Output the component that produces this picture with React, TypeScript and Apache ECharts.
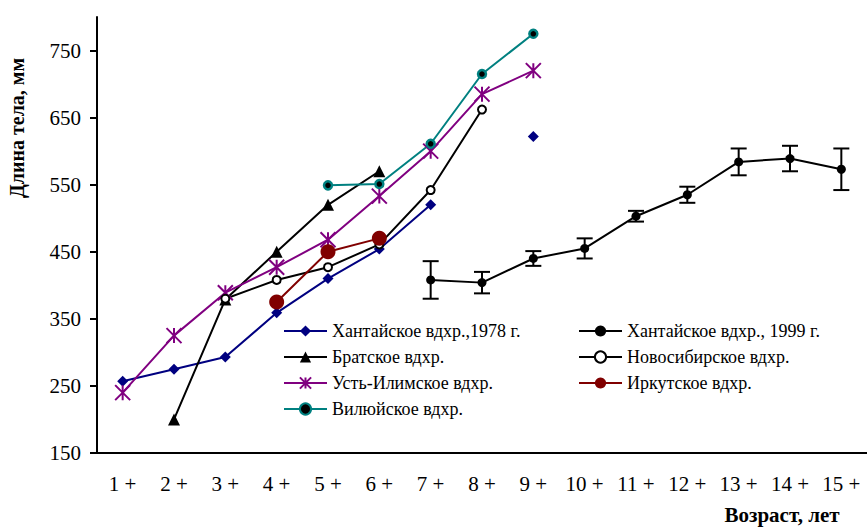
import React, { useEffect, useRef } from "react";
import * as echarts from "echarts";

const categories = ["1 +", "2 +", "3 +", "4 +", "5 +", "6 +", "7 +", "8 +", "9 +", "10 +", "11 +", "12 +", "13 +", "14 +", "15 +"];
const yTicks = [150, 250, 350, 450, 550, 650, 750];

const khant1978 = [257, 275, 293, 359, 410, 454, 520, null, 622, null, null, null, null, null, null];
const bratsk = [null, 200, 379, 450, 520, 570, null, null, null, null, null, null, null, null, null];
const ustIlim = [240, 325, 389, 427, 468, 533, 600, 685, 720, null, null, null, null, null, null];
const vilyui = [null, null, null, null, 549, 551, 611, 715, 775, null, null, null, null, null, null];
const khant1999 = [null, null, null, null, null, null, 408, 404, 440, 455, 503, 535, 584, 589, 573];
const khant1999Err = [null, null, null, null, null, null, 28, 16, 11, 15, 8, 12, 20, 19, 31];
const novosib = [null, null, 380, 408, 427, 461, 542, 662, null, null, null, null, null, null, null];
const irkutsk = [null, null, null, 375, 450, 470, null, null, null, null, null, null, null, null, null];

const names = {
  k78: "Хантайское вдхр.,1978 г.",
  br: "Братское вдхр.",
  ui: "Усть-Илимское вдхр.",
  vi: "Вилюйское вдхр.",
  k99: "Хантайское вдхр., 1999 г.",
  no: "Новосибирское вдхр.",
  ir: "Иркутское вдхр.",
};

const FONT = "'Liberation Serif', 'Times New Roman', serif";

export default function App() {
  const ref = useRef<HTMLDivElement>(null);
  useEffect(() => {
    if (!ref.current) return;
    const chart = echarts.init(ref.current, null, { renderer: "svg" });
    const errData = khant1999
      .map((v, i) => (v == null || khant1999Err[i] == null ? null : [i, v - (khant1999Err[i] as number), v + (khant1999Err[i] as number)]))
      .filter((d) => d != null);
    const lineBase = {
      type: "line",
      showAllSymbol: true,
      connectNulls: false,
      animation: false,
    };
    const legendText = { fontFamily: FONT, fontSize: 18, color: "#000" };
    chart.setOption({
      animation: false,
      textStyle: { fontFamily: FONT },
      grid: { left: 97, right: -1, top: 17, bottom: 74, containLabel: false },
      legend: [
        {
          left: 278,
          top: 317,
          orient: "vertical",
          itemWidth: 43,
          itemHeight: 14,
          itemGap: 8,
          textStyle: legendText,
          data: [names.k78, names.br, names.ui, names.vi],
        },
        {
          left: 573,
          top: 317,
          orient: "vertical",
          itemWidth: 43,
          itemHeight: 14,
          itemGap: 8,
          textStyle: legendText,
          data: [names.k99, names.no, names.ir],
        },
      ],
      xAxis: {
        type: "category",
        data: categories,
        boundaryGap: true,
        axisLine: { lineStyle: { color: "#000", width: 2 } },
        axisTick: { length: 6, lineStyle: { color: "#000", width: 2 } },
        axisLabel: { color: "#000", fontSize: 21, fontFamily: FONT, margin: 20, interval: 0 },
      },
      yAxis: {
        type: "value",
        min: 150,
        max: 800,
        splitLine: { show: false },
        axisLine: { show: true, lineStyle: { color: "#000", width: 2 } },
        axisTick: { show: true, length: 7, lineStyle: { color: "#000", width: 2 }, customValues: yTicks },
        axisLabel: { color: "#000", fontSize: 21, fontFamily: FONT, margin: 16, customValues: yTicks },
      },
      graphic: [
        {
          type: "text",
          x: 17,
          y: 128,
          rotation: Math.PI / 2,
          style: {
            text: "Длина тела, мм",
            fontFamily: FONT,
            fontWeight: "bold",
            fontSize: 20,
            fill: "#000",
            textAlign: "center",
            textVerticalAlign: "middle",
          },
        },
        {
          type: "text",
          x: 782,
          y: 515,
          style: {
            text: "Возраст, лет",
            fontFamily: FONT,
            fontWeight: "bold",
            fontSize: 21,
            fill: "#000",
            textAlign: "center",
            textVerticalAlign: "middle",
          },
        },
      ],
      series: [
        {
          ...lineBase,
          name: names.k78,
          data: khant1978,
          symbol: "diamond",
          symbolSize: 11,
          itemStyle: { color: "#000080" },
          lineStyle: { color: "#000080", width: 2 },
        },
        {
          ...lineBase,
          name: names.br,
          data: bratsk,
          symbol: "triangle",
          symbolSize: 12,
          itemStyle: { color: "#000" },
          lineStyle: { color: "#000", width: 2 },
        },
        {
          ...lineBase,
          name: names.ui,
          data: ustIlim,
          symbol: "path://M0,0L10,10M10,0L0,10M5,0L5,10",
          symbolSize: 15,
          itemStyle: { color: "#800080", borderColor: "#800080", borderWidth: 2 },
          lineStyle: { color: "#800080", width: 2 },
        },
        {
          ...lineBase,
          name: names.vi,
          data: vilyui,
          symbol: "circle",
          symbolSize: 8,
          itemStyle: { color: "#000", borderColor: "#008080", borderWidth: 2.5 },
          lineStyle: { color: "#008080", width: 2 },
        },
        {
          ...lineBase,
          name: names.k99,
          data: khant1999,
          symbol: "circle",
          symbolSize: 9,
          itemStyle: { color: "#000" },
          lineStyle: { color: "#000", width: 2 },
        },
        {
          ...lineBase,
          name: names.no,
          data: novosib,
          symbol: "circle",
          symbolSize: 8,
          itemStyle: { color: "#fff", borderColor: "#000", borderWidth: 2 },
          lineStyle: { color: "#000", width: 2 },
        },
        {
          ...lineBase,
          name: names.ir,
          data: irkutsk,
          symbol: "circle",
          symbolSize: 15,
          itemStyle: { color: "#800000" },
          lineStyle: { color: "#800000", width: 2 },
        },
        {
          type: "custom",
          name: "err",
          data: errData,
          z: 3,
          renderItem: (params: any, api: any) => {
            const i = api.value(0);
            const lo = api.coord([i, api.value(1)]);
            const hi = api.coord([i, api.value(2)]);
            const hw = 8;
            const style = { stroke: "#000", lineWidth: 2 };
            return {
              type: "group",
              children: [
                { type: "line", shape: { x1: lo[0], y1: lo[1], x2: hi[0], y2: hi[1] }, style },
                { type: "line", shape: { x1: lo[0] - hw, y1: lo[1], x2: lo[0] + hw, y2: lo[1] }, style },
                { type: "line", shape: { x1: hi[0] - hw, y1: hi[1], x2: hi[0] + hw, y2: hi[1] }, style },
              ],
            };
          },
        },
      ],
    });
    return () => chart.dispose();
  }, []);
  return (
    <div
      ref={ref}
      style={{ position: "absolute", left: 0, top: 0, width: 867, height: 527, background: "#fff" }}
    />
  );
}
